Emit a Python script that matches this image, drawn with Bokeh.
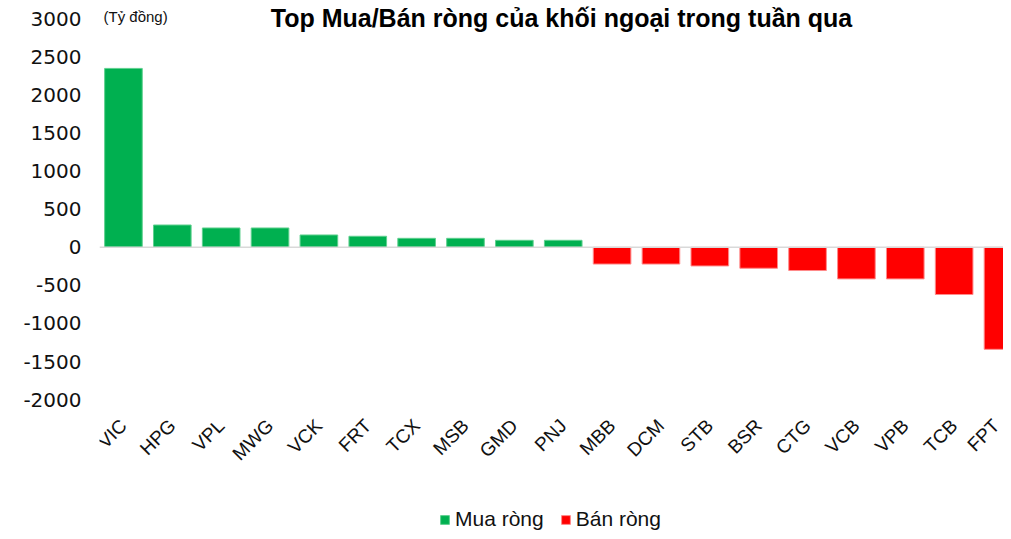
import math
from bokeh.plotting import figure
from bokeh.models import (ColumnDataSource, Range1d, FixedTicker, Span, Label, Legend,
                          LegendItem, NumeralTickFormatter)
from bokeh.embed import file_html
from bokeh.resources import INLINE

# ---- data ----
tickers = ["VIC", "HPG", "VPL", "MWG", "VCK", "FRT", "TCX", "MSB", "GMD", "PNJ",
           "MBB", "DCM", "STB", "BSR", "CTG", "VCB", "VPB", "TCB", "FPT"]
values = [2350, 293, 254, 254, 162, 145, 118, 118, 92, 92,
          -220, -220, -245, -275, -305, -415, -415, -620, -1340]
y_ticks = [-2000, -1500, -1000, -500, 0, 500, 1000, 1500, 2000, 2500, 3000]
title_text = "Top Mua/Bán ròng của khối ngoại trong tuần qua"
unit_text = "(Tỷ đồng)"
buy_label = "Mua ròng"
sell_label = "Bán ròng"

GREEN = "#00B050"
RED = "#FF0000"
FONT = "DejaVu Sans"
XFONT = "Liberation Sans"

idx = list(range(len(tickers)))
pos = ColumnDataSource(dict(x=[i for i, v in zip(idx, values) if v >= 0],
                            top=[v for v in values if v >= 0]))
neg = ColumnDataSource(dict(x=[i for i, v in zip(idx, values) if v < 0],
                            top=[v for v in values if v < 0]))

p = figure(width=1003, height=531, output_backend="svg", toolbar_location=None,
           x_range=Range1d(-0.49, 18.01), y_range=Range1d(-3733, 3242),
           min_border_left=99, min_border_right=0, min_border_top=0, min_border_bottom=0)
p.outline_line_color = None
p.xgrid.visible = False
p.ygrid.visible = False
p.background_fill_color = "white"
p.border_fill_color = "white"

r_pos = p.vbar(x="x", top="top", bottom=0, width=0.77, source=pos,
               fill_color=GREEN, line_color="#5fd08f", line_width=1)
r_neg = p.vbar(x="x", top="top", bottom=0, width=0.77, source=neg,
               fill_color=RED, line_color="#ff8a8a", line_width=1)

p.add_layout(Span(location=0, dimension="width", line_color="#D9D9D9", line_width=1.5))

# axes
p.yaxis.ticker = FixedTicker(ticks=y_ticks)
p.yaxis.formatter = NumeralTickFormatter(format="0")
p.yaxis.axis_line_color = None
p.yaxis.major_tick_line_color = None
p.yaxis.minor_tick_line_color = None
p.yaxis.major_label_text_font = FONT
p.yaxis.major_label_text_font_size = "20px"
p.yaxis.major_label_text_color = "#111111"
p.yaxis.major_label_standoff = 12

p.xaxis.ticker = FixedTicker(ticks=idx)
p.xaxis.fixed_location = -2144
p.xaxis.major_label_overrides = {i: t for i, t in enumerate(tickers)}
p.xaxis.major_label_orientation = math.pi / 4
p.xaxis.axis_line_color = None
p.xaxis.major_tick_line_color = None
p.xaxis.minor_tick_line_color = None
p.xaxis.major_label_text_font = XFONT
p.xaxis.major_label_text_font_size = "19px"
p.xaxis.major_label_text_color = "#111111"
p.xaxis.major_label_standoff = 6

# title and unit
p.add_layout(Label(x=462, y=528, x_units="screen", y_units="screen", text=title_text,
                   text_font=XFONT, text_font_style="bold", text_font_size="25px",
                   text_align="center", text_baseline="top", text_color="#000000"))
p.add_layout(Label(x=4, y=524, x_units="screen", y_units="screen", text=unit_text,
                   text_font=XFONT, text_font_size="15px",
                   text_align="left", text_baseline="top", text_color="#111111"))

legend = Legend(items=[LegendItem(label=buy_label, renderers=[r_pos]),
                       LegendItem(label=sell_label, renderers=[r_neg])],
                orientation="horizontal", location=(340, 0),
                label_text_font=XFONT, label_text_font_size="21px", label_text_color="#111111",
                glyph_width=11, glyph_height=11, spacing=16, padding=0, margin=0,
                label_standoff=5, border_line_color=None, background_fill_alpha=0)
p.add_layout(legend, "center")

open("out.html", "w").write(file_html(p, INLINE))
